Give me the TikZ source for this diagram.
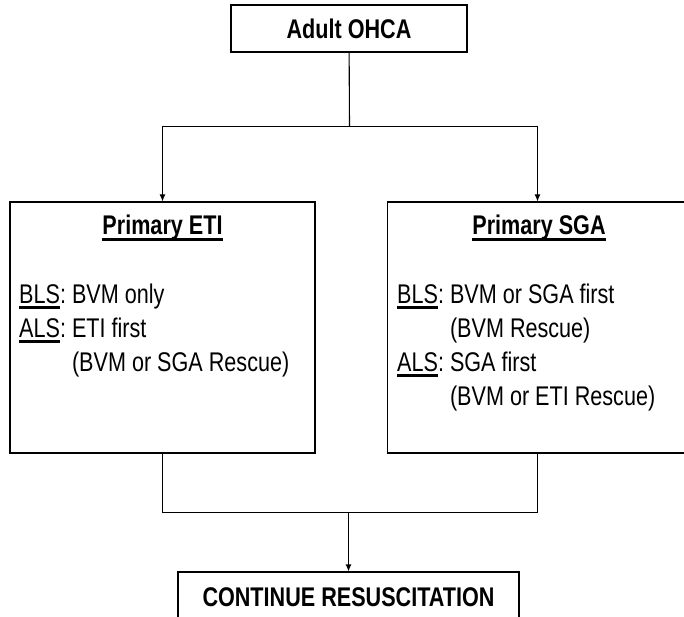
\documentclass[tikz,border=0pt]{standalone}
\usepackage{fontspec}
\setmainfont{Liberation Sans}[FakeStretch=0.8]
\usepackage{tikz}
\usetikzlibrary{arrows.meta}
\newcommand{\ulbar}[1]{\setbox0=\hbox{#1}\rlap{\rule[-5.6pt]{\wd0}{2.6pt}}\box0}

\begin{document}
\begin{tikzpicture}
		[x=1pt,y=-1pt,every node/.style={inner sep=0pt,font=\fontsize{27}{34}\selectfont},
		box/.style={draw,rectangle,line width=1.1pt},
		head/.style={font=\fontsize{27}{34}\selectfont\bfseries},
		link/.style={line width=1.1pt},
		edge/.style={link,-{Latex[length=7pt,width=6pt]}}]
		\useasboundingbox (0,0) rectangle (684,617);
		\clip (0,0) rectangle (684,617);
		\node[box,head,minimum width=236pt,minimum height=47pt] (adult) at (349,28.5) {Adult OHCA};
		\node[box,minimum width=305pt,minimum height=251pt] (eti) at (162.5,327.5) {};
		\node[box,minimum width=300pt,minimum height=251pt] (sga) at (537.5,327.5) {};
		\node[box,head,minimum width=341pt,minimum height=50pt] (cont) at (348.5,597) {CONTINUE RESUSCITATION};
		
		\node[head,anchor=base] (etihead) at (162.5,235) {\ulbar{Primary ETI}};
		\node[anchor=base west] (etitext) at (19,303) {\begin{tabular}[t]{@{}l@{\ }l@{}}
			\ulbar{BLS}: & BVM only\\
			\ulbar{ALS}: & ETI first\\
			& (BVM or SGA Rescue)
		\end{tabular}};
		\node[head,anchor=base] (sgahead) at (539,235) {\ulbar{Primary SGA}};
		\node[anchor=base west] (sgatext) at (397,303) {\begin{tabular}[t]{@{}l@{\ }l@{}}
			\ulbar{BLS}: & BVM or SGA first\\
			& (BVM Rescue)\\
			\ulbar{ALS}: & SGA first\\
			& (BVM or ETI Rescue)
		\end{tabular}};
		
		\coordinate (split) at (349.5,126.5);
		\coordinate (join) at (348.5,512.5);
		\draw[link] (adult) -- (split);
		\foreach \to in {eti,sga}
		\draw[edge] (split) -| (\to);
		\draw[link] (eti) |- (join) -| (sga);
		\draw[edge] (join) -- (cont);
		\end{tikzpicture}
\end{document}
